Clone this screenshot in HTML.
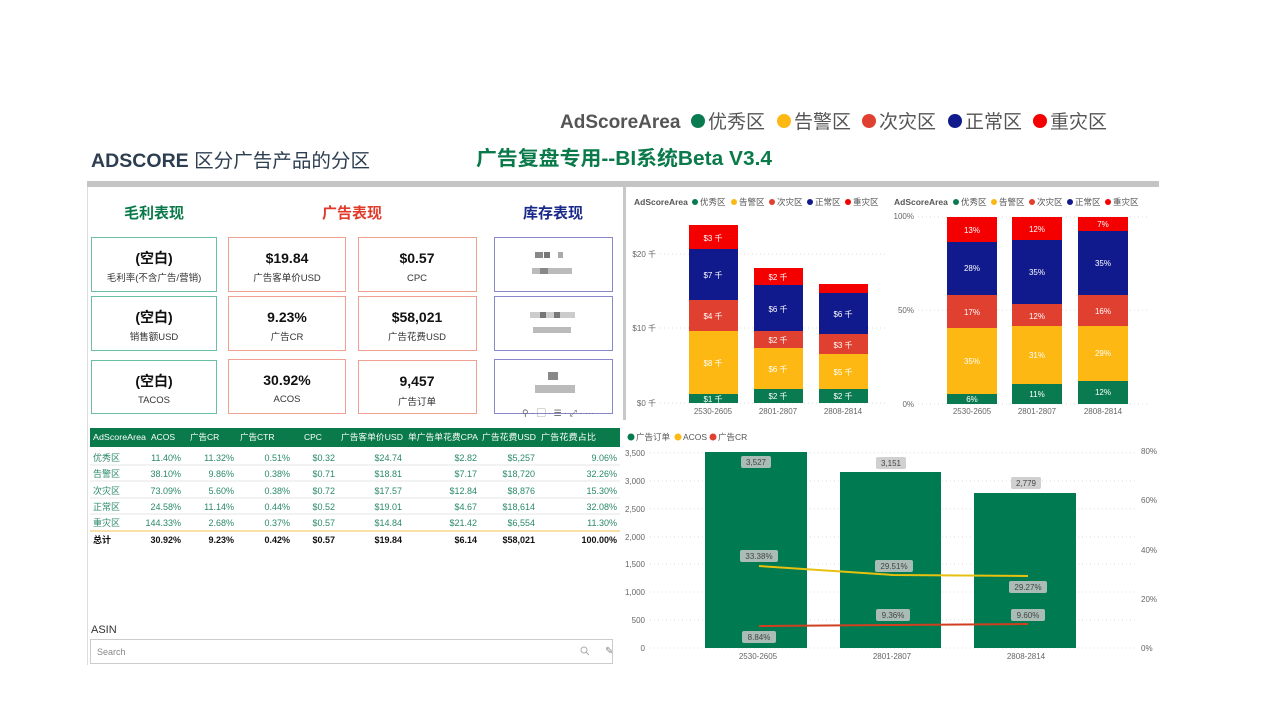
<!DOCTYPE html>
<html><head><meta charset="utf-8"><style>
body{margin:0;background:#fff;}
svg{display:block;font-family:"Liberation Sans","Noto Sans CJK SC",sans-serif;}
</style></head><body>
<svg width="1280" height="720" viewBox="0 0 1280 720" xmlns="http://www.w3.org/2000/svg">
<rect width="1280" height="720" fill="#fff"/>
<g font-size="19" fill="#555">
<text x="560" y="128" font-weight="bold" fill="#555">AdScoreArea</text>
<circle cx="698" cy="121" r="7" fill="#0a7a50"/><text x="708" y="128">优秀区</text>
<circle cx="784" cy="121" r="7" fill="#fdb813"/><text x="794" y="128">告警区</text>
<circle cx="869" cy="121" r="7" fill="#e04030"/><text x="879" y="128">次灾区</text>
<circle cx="955" cy="121" r="7" fill="#101a8c"/><text x="965" y="128">正常区</text>
<circle cx="1040" cy="121" r="7" fill="#f40000"/><text x="1050" y="128">重灾区</text>
</g>
<text x="91" y="167" font-size="19" fill="#2d3e50" textLength="279" lengthAdjust="spacingAndGlyphs"><tspan font-weight="bold">ADSCORE</tspan> 区分广告产品的分区</text>
<text x="476" y="165" font-size="20" font-weight="bold" fill="#0a7a4a" textLength="296" lengthAdjust="spacingAndGlyphs">广告复盘专用--BI系统Beta V3.4</text>
<rect x="87" y="181" width="1072" height="6" fill="#c4c4c4"/>
<line x1="87.5" y1="187" x2="87.5" y2="665" stroke="#ddd"/>
<rect x="623" y="187" width="3" height="233" fill="#c8c8c8"/>
<g font-size="15" font-weight="bold" text-anchor="middle">
<text x="154" y="218" fill="#0a7a4a">毛利表现</text>
<text x="352" y="218" fill="#e03a2a">广告表现</text>
<text x="553" y="218" fill="#1a2a8a">库存表现</text>
</g>
<g fill="none" stroke-width="1">
<rect x="91.5" y="237.5" width="125" height="54" stroke="#6cc0a0"/>
<rect x="91.5" y="296.5" width="125" height="54" stroke="#6cc0a0"/>
<rect x="91.5" y="360.5" width="125" height="53" stroke="#6cc0a0"/>
<rect x="228.5" y="237.5" width="117" height="54" stroke="#f0a090"/>
<rect x="228.5" y="296.5" width="117" height="54" stroke="#f0a090"/>
<rect x="228.5" y="359.5" width="117" height="54" stroke="#f0a090"/>
<rect x="358.5" y="237.5" width="118" height="54" stroke="#f0a090"/>
<rect x="358.5" y="296.5" width="118" height="54" stroke="#f0a090"/>
<rect x="358.5" y="360.5" width="118" height="53" stroke="#f0a090"/>
<rect x="494.5" y="237.5" width="118" height="54" stroke="#8888cc"/>
<rect x="494.5" y="296.5" width="118" height="54" stroke="#8888cc"/>
<rect x="494.5" y="359.5" width="118" height="54" stroke="#8888cc"/>
</g>
<g text-anchor="middle">
<g font-size="14" font-weight="bold" fill="#111">
<text x="154" y="263">(空白)</text><text x="154" y="322">(空白)</text><text x="154" y="386">(空白)</text>
<text x="287" y="263">$19.84</text><text x="287" y="322">9.23%</text><text x="287" y="385">30.92%</text>
<text x="417" y="263">$0.57</text><text x="417" y="322">$58,021</text><text x="417" y="386">9,457</text>
</g>
<g font-size="9.5" fill="#333">
<text x="154" y="281">毛利率(不含广告/营销)</text><text x="154" y="340">销售额USD</text><text x="154" y="403">TACOS</text>
<text x="287" y="281">广告客单价USD</text><text x="287" y="340">广告CR</text><text x="287" y="402">ACOS</text>
<text x="417" y="281">CPC</text><text x="417" y="340">广告花费USD</text><text x="417" y="405">广告订单</text>
</g>
</g>
<g fill="#aaa">
<rect x="535" y="252" width="8" height="6" fill="#888"/><rect x="544" y="252" width="6" height="6" fill="#777"/><rect x="558" y="252" width="5" height="6"/>
<rect x="532" y="268" width="40" height="6" fill="#bbb"/><rect x="540" y="268" width="8" height="6" fill="#888"/>
<rect x="530" y="312" width="45" height="6" fill="#ccc"/><rect x="540" y="312" width="6" height="6" fill="#777"/><rect x="554" y="312" width="6" height="6" fill="#777"/>
<rect x="533" y="327" width="38" height="6" fill="#bbb"/>
<rect x="548" y="372" width="10" height="8" fill="#888"/><rect x="535" y="385" width="40" height="8" fill="#bbb"/>
</g>
<text x="522" y="416" font-size="9" fill="#666">⚲ · ▢ · ☰ · ⤢ · ···</text>
<rect x="90" y="428" width="530" height="19" fill="#0a7a4a"/>
<g font-size="8.5" fill="#fff">
<text x="93" y="440" textLength="53" lengthAdjust="spacingAndGlyphs">AdScoreArea</text><text x="151" y="440">ACOS</text><text x="190" y="440">广告CR</text><text x="240" y="440">广告CTR</text><text x="304" y="440">CPC</text><text x="341" y="440" textLength="62" lengthAdjust="spacingAndGlyphs">广告客单价USD</text><text x="408" y="440" textLength="70" lengthAdjust="spacingAndGlyphs">单广告单花费CPA</text><text x="482" y="440" textLength="54" lengthAdjust="spacingAndGlyphs">广告花费USD</text><text x="541" y="440" textLength="55" lengthAdjust="spacingAndGlyphs">广告花费占比</text>
</g>
<g stroke="#e6e6e6"><line x1="90" y1="465" x2="620" y2="465"/><line x1="90" y1="481" x2="620" y2="481"/><line x1="90" y1="498" x2="620" y2="498"/><line x1="90" y1="514" x2="620" y2="514"/></g>
<line x1="90" y1="531" x2="620" y2="531" stroke="#f5d58a" stroke-width="1.5"/>
<g font-size="9" fill="#2a8a68">
<text x="93" y="461">优秀区</text><text x="93" y="477">告警区</text><text x="93" y="494">次灾区</text><text x="93" y="510">正常区</text><text x="93" y="526">重灾区</text>
<g text-anchor="end">
<text x="181" y="461">11.40%</text><text x="234" y="461">11.32%</text><text x="290" y="461">0.51%</text><text x="335" y="461">$0.32</text><text x="402" y="461">$24.74</text><text x="477" y="461">$2.82</text><text x="535" y="461">$5,257</text><text x="617" y="461">9.06%</text>
<text x="181" y="477">38.10%</text><text x="234" y="477">9.86%</text><text x="290" y="477">0.38%</text><text x="335" y="477">$0.71</text><text x="402" y="477">$18.81</text><text x="477" y="477">$7.17</text><text x="535" y="477">$18,720</text><text x="617" y="477">32.26%</text>
<text x="181" y="494">73.09%</text><text x="234" y="494">5.60%</text><text x="290" y="494">0.38%</text><text x="335" y="494">$0.72</text><text x="402" y="494">$17.57</text><text x="477" y="494">$12.84</text><text x="535" y="494">$8,876</text><text x="617" y="494">15.30%</text>
<text x="181" y="510">24.58%</text><text x="234" y="510">11.14%</text><text x="290" y="510">0.44%</text><text x="335" y="510">$0.52</text><text x="402" y="510">$19.01</text><text x="477" y="510">$4.67</text><text x="535" y="510">$18,614</text><text x="617" y="510">32.08%</text>
<text x="181" y="526">144.33%</text><text x="234" y="526">2.68%</text><text x="290" y="526">0.37%</text><text x="335" y="526">$0.57</text><text x="402" y="526">$14.84</text><text x="477" y="526">$21.42</text><text x="535" y="526">$6,554</text><text x="617" y="526">11.30%</text>
</g></g>
<g font-size="9" font-weight="bold" fill="#111">
<text x="93" y="543">总计</text>
<g text-anchor="end"><text x="181" y="543">30.92%</text><text x="234" y="543">9.23%</text><text x="290" y="543">0.42%</text><text x="335" y="543">$0.57</text><text x="402" y="543">$19.84</text><text x="477" y="543">$6.14</text><text x="535" y="543">$58,021</text><text x="617" y="543">100.00%</text></g>
</g>
<text x="91" y="633" font-size="11" fill="#333">ASIN</text>
<rect x="90.5" y="639.5" width="522" height="24" fill="#fff" stroke="#ccc"/>
<text x="97" y="655" font-size="9" fill="#888">Search</text>
<circle cx="584" cy="650" r="3" fill="none" stroke="#aaa"/><line x1="586" y1="652" x2="589" y2="655" stroke="#aaa"/>
<text x="605" y="654" font-size="10" fill="#888">✎</text>

<g font-size="8.5" fill="#555">
<text x="634" y="205" font-weight="bold">AdScoreArea</text>
<circle cx="695" cy="202" r="3" fill="#0a7a50"/><text x="700" y="205">优秀区</text>
<circle cx="734" cy="202" r="3" fill="#fdb813"/><text x="739" y="205">告警区</text>
<circle cx="772" cy="202" r="3" fill="#e04030"/><text x="777" y="205">次灾区</text>
<circle cx="810" cy="202" r="3" fill="#101a8c"/><text x="815" y="205">正常区</text>
<circle cx="848" cy="202" r="3" fill="#f40000"/><text x="853" y="205">重灾区</text>
<text x="894" y="205" font-weight="bold">AdScoreArea</text>
<circle cx="956" cy="202" r="3" fill="#0a7a50"/><text x="961" y="205">优秀区</text>
<circle cx="994" cy="202" r="3" fill="#fdb813"/><text x="999" y="205">告警区</text>
<circle cx="1032" cy="202" r="3" fill="#e04030"/><text x="1037" y="205">次灾区</text>
<circle cx="1070" cy="202" r="3" fill="#101a8c"/><text x="1075" y="205">正常区</text>
<circle cx="1108" cy="202" r="3" fill="#f40000"/><text x="1113" y="205">重灾区</text>
</g>
<g stroke="#ddd" stroke-dasharray="1,3">
<line x1="660" y1="254" x2="885" y2="254"/><line x1="660" y1="328" x2="885" y2="328"/><line x1="660" y1="403" x2="885" y2="403"/>
<line x1="918" y1="217" x2="1150" y2="217"/><line x1="918" y1="310" x2="1150" y2="310"/><line x1="918" y1="404" x2="1150" y2="404"/>
</g>
<g font-size="8" fill="#666" text-anchor="end">
<text x="656" y="257">$20 千</text><text x="656" y="331">$10 千</text><text x="656" y="406">$0 千</text>
<text x="914" y="219">100%</text><text x="914" y="313">50%</text><text x="914" y="407">0%</text>
</g>
<g>
<rect x="689" y="225" width="49" height="24" fill="#f40000"/><rect x="689" y="249" width="49" height="51" fill="#101a8c"/><rect x="689" y="300" width="49" height="31" fill="#e04030"/><rect x="689" y="331" width="49" height="63" fill="#fdb813"/><rect x="689" y="394" width="49" height="9" fill="#0a7a50"/>
<rect x="754" y="268" width="49" height="17" fill="#f40000"/><rect x="754" y="285" width="49" height="46" fill="#101a8c"/><rect x="754" y="331" width="49" height="17" fill="#e04030"/><rect x="754" y="348" width="49" height="41" fill="#fdb813"/><rect x="754" y="389" width="49" height="14" fill="#0a7a50"/>
<rect x="819" y="284" width="49" height="9" fill="#f40000"/><rect x="819" y="293" width="49" height="41" fill="#101a8c"/><rect x="819" y="334" width="49" height="20" fill="#e04030"/><rect x="819" y="354" width="49" height="35" fill="#fdb813"/><rect x="819" y="389" width="49" height="14" fill="#0a7a50"/>
</g>
<g font-size="8" fill="#fff" text-anchor="middle">
<text x="713" y="241">$3 千</text><text x="713" y="278">$7 千</text><text x="713" y="319">$4 千</text><text x="713" y="366">$8 千</text><text x="713" y="402">$1 千</text>
<text x="778" y="280">$2 千</text><text x="778" y="312">$6 千</text><text x="778" y="343">$2 千</text><text x="778" y="372">$6 千</text><text x="778" y="399">$2 千</text>
<text x="843" y="317">$6 千</text><text x="843" y="348">$3 千</text><text x="843" y="375">$5 千</text><text x="843" y="399">$2 千</text>
</g>
<g font-size="8" fill="#666" text-anchor="middle">
<text x="713" y="414">2530-2605</text><text x="778" y="414">2801-2807</text><text x="843" y="414">2808-2814</text>
<text x="972" y="414">2530-2605</text><text x="1037" y="414">2801-2807</text><text x="1103" y="414">2808-2814</text>
</g>
<g>
<rect x="947" y="217" width="50" height="25" fill="#f40000"/><rect x="947" y="242" width="50" height="53" fill="#101a8c"/><rect x="947" y="295" width="50" height="33" fill="#e04030"/><rect x="947" y="328" width="50" height="66" fill="#fdb813"/><rect x="947" y="394" width="50" height="10" fill="#0a7a50"/>
<rect x="1012" y="217" width="50" height="23" fill="#f40000"/><rect x="1012" y="240" width="50" height="64" fill="#101a8c"/><rect x="1012" y="304" width="50" height="22" fill="#e04030"/><rect x="1012" y="326" width="50" height="58" fill="#fdb813"/><rect x="1012" y="384" width="50" height="20" fill="#0a7a50"/>
<rect x="1078" y="217" width="50" height="14" fill="#f40000"/><rect x="1078" y="231" width="50" height="64" fill="#101a8c"/><rect x="1078" y="295" width="50" height="31" fill="#e04030"/><rect x="1078" y="326" width="50" height="55" fill="#fdb813"/><rect x="1078" y="381" width="50" height="23" fill="#0a7a50"/>
</g>
<g font-size="8" fill="#fff" text-anchor="middle">
<text x="972" y="233">13%</text><text x="972" y="271">28%</text><text x="972" y="315">17%</text><text x="972" y="364">35%</text><text x="972" y="402">6%</text>
<text x="1037" y="232">12%</text><text x="1037" y="275">35%</text><text x="1037" y="319">12%</text><text x="1037" y="358">31%</text><text x="1037" y="397">11%</text>
<text x="1103" y="227">7%</text><text x="1103" y="266">35%</text><text x="1103" y="314">16%</text><text x="1103" y="356">29%</text><text x="1103" y="395">12%</text>
</g>
<g font-size="8.5" fill="#555">
<circle cx="631" cy="437" r="3.5" fill="#0a7a50"/><text x="636" y="440">广告订单</text>
<circle cx="678" cy="437" r="3.5" fill="#fdb813"/><text x="683" y="440">ACOS</text>
<circle cx="713" cy="437" r="3.5" fill="#e04030"/><text x="718" y="440">广告CR</text>
</g>
<g stroke="#ddd" stroke-dasharray="1,3">
<line x1="650" y1="453" x2="1135" y2="453"/><line x1="650" y1="481" x2="1135" y2="481"/><line x1="650" y1="509" x2="1135" y2="509"/><line x1="650" y1="537" x2="1135" y2="537"/><line x1="650" y1="564" x2="1135" y2="564"/><line x1="650" y1="592" x2="1135" y2="592"/><line x1="650" y1="620" x2="1135" y2="620"/><line x1="650" y1="648" x2="1135" y2="648"/>
</g>
<g font-size="8" fill="#666" text-anchor="end">
<text x="645" y="456">3,500</text><text x="645" y="484">3,000</text><text x="645" y="512">2,500</text><text x="645" y="540">2,000</text><text x="645" y="567">1,500</text><text x="645" y="595">1,000</text><text x="645" y="623">500</text><text x="645" y="651">0</text>
</g>
<g font-size="8" fill="#666">
<text x="1141" y="454">80%</text><text x="1141" y="503">60%</text><text x="1141" y="553">40%</text><text x="1141" y="602">20%</text><text x="1141" y="651">0%</text>
</g>
<rect x="705" y="452" width="102" height="196" fill="#007a50"/>
<rect x="840" y="472" width="101" height="176" fill="#007a50"/>
<rect x="974" y="493" width="102" height="155" fill="#007a50"/>
<polyline points="759,566 893,575 1028,576" fill="none" stroke="#e8c010" stroke-width="2"/>
<polyline points="759,626 893,625 1028,624" fill="none" stroke="#d04020" stroke-width="2"/>
<g fill="#c8c8c8" fill-opacity="0.85">
<rect x="741" y="456" width="30" height="12" rx="2"/><rect x="876" y="457" width="30" height="12" rx="2"/><rect x="1011" y="477" width="30" height="12" rx="2"/>
<rect x="740" y="550" width="38" height="12" rx="2"/><rect x="875" y="560" width="38" height="12" rx="2"/><rect x="1009" y="581" width="38" height="12" rx="2"/>
<rect x="742" y="631" width="34" height="12" rx="2"/><rect x="876" y="609" width="34" height="12" rx="2"/><rect x="1011" y="609" width="34" height="12" rx="2"/>
</g>
<g font-size="8" fill="#444" text-anchor="middle">
<text x="756" y="465">3,527</text><text x="891" y="466">3,151</text><text x="1026" y="486">2,779</text>
<text x="759" y="559">33.38%</text><text x="894" y="569">29.51%</text><text x="1028" y="590">29.27%</text>
<text x="759" y="640">8.84%</text><text x="893" y="618">9.36%</text><text x="1028" y="618">9.60%</text>
</g>
<g font-size="8" fill="#666" text-anchor="middle">
<text x="758" y="659">2530-2605</text><text x="892" y="659">2801-2807</text><text x="1026" y="659">2808-2814</text>
</g>
</svg>
</body></html>
